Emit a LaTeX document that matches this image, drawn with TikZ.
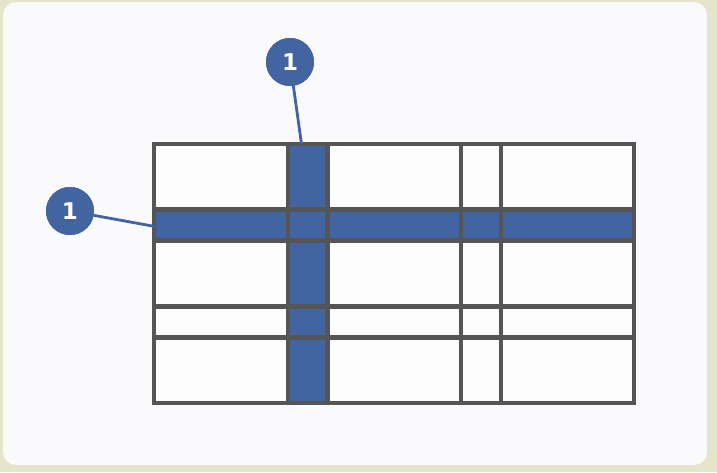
\documentclass[tikz,border=0pt]{standalone}
\usepackage{fontspec}
\newfontfamily\badgefont{DejaVu Sans}
\definecolor{beige}{HTML}{E6E4CB}
\definecolor{panel}{HTML}{FAFAFC}
\definecolor{cellw}{HTML}{FCFCFC}
\definecolor{hilite}{HTML}{4264A1}
\definecolor{gridline}{HTML}{555555}
\tikzset{
  badge/.style={circle, fill=hilite, minimum size=48pt, inner sep=0pt, text=white, font=\badgefont\bfseries\fontsize{23}{23}\selectfont},
  leader/.style={draw=hilite, line width=2.8pt},
  gline/.style={draw=gridline, line width=4.5pt, line cap=rect}
}
\begin{document}
\begin{tikzpicture}[x=1pt,y=-1pt]
\useasboundingbox (0,0) rectangle (717,472);
\fill[beige] (0,0) rectangle (717,472);
\fill[panel, rounded corners=13pt] (3,2) rectangle (707,465);
% grid
\fill[cellw] (154,144) rectangle (634,403);
\fill[hilite] (288,144) rectangle (327.5,403);
\fill[hilite] (154,209.5) rectangle (634,240.5);
\foreach \x in {154,288,327.5,461,501,634}
  \draw[gline] (\x,144) -- (\x,403);
\foreach \y in {144,209.5,240.5,306.5,337.5,403}
  \draw[gline] (154,\y) -- (634,\y);
% callouts
\coordinate (t1) at (301.5,144);
\coordinate (t2) at (155,226.5);
\node[badge] (c1) at (290,62) {1};
\node[badge] (c2) at (70,211) {1};
\draw[leader] (c1) -- (t1);
\draw[leader] (c2) -- (t2);
\node[badge] at (c1) {1};
\node[badge] at (c2) {1};
\end{tikzpicture}
\end{document}
